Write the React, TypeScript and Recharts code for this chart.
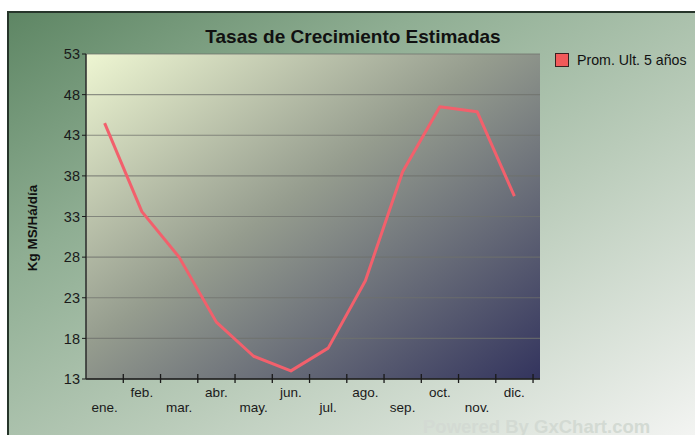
import { LineChart, Line, XAxis, YAxis, CartesianGrid } from 'recharts'

const months = ['ene.', 'feb.', 'mar.', 'abr.', 'may.', 'jun.', 'jul.', 'ago.', 'sep.', 'oct.', 'nov.', 'dic.']
const promUlt5 = [44.5, 33.6, 28.0, 20.0, 15.8, 14.0, 16.8, 25.1, 38.5, 46.5, 45.9, 35.5]
const yTicks = [13, 18, 23, 28, 33, 38, 43, 48, 53]

const data = months.map((m, i) => ({ month: m, prom: promUlt5[i] }))

const W = 695
const H = 435
const BAND = 448 / 12
const font = '"Liberation Sans", Arial, sans-serif'

function MonthTick(props: any) {
  const { x, y, payload, index } = props
  const right = x + BAND / 2
  const low = index % 2 === 0
  return (
    <g>
      <line x1={right} y1={y - 5} x2={right} y2={y + 4} stroke="#1a1a1a" strokeWidth={1.3} />
      <text
        x={x}
        y={y + (low ? 33 : 18)}
        textAnchor="middle"
        fill="#1a1a1a"
        fontSize={13.5}
        fontFamily={font}
      >
        {payload.value}
      </text>
    </g>
  )
}

export default function App() {
  return (
    <div style={{ position: 'absolute', left: 0, top: 0, width: W, height: H, background: '#fff', overflow: 'hidden' }}>
      <div
        style={{
          position: 'absolute',
          left: 7,
          top: 11,
          width: W - 7,
          height: H - 11,
          boxSizing: 'border-box',
          borderTop: '2px solid #26352a',
          borderLeft: '2px solid #26352a',
          background: 'linear-gradient(to bottom right, #5e8664 0%, #8fae93 30%, #b9cbb9 60%, #f3f4f2 100%)',
        }}
      />
      <div style={{ position: 'absolute', left: 0, top: 0 }}>
        <LineChart width={W} height={H} data={data} margin={{ top: 54, right: 155, bottom: 26, left: 26 }}>
          <defs>
            <linearGradient id="plotGrad" x1="0" y1="0" x2="1" y2="1">
              <stop offset="0%" stopColor="#eef6d2" />
              <stop offset="45%" stopColor="#959c8e" />
              <stop offset="100%" stopColor="#33345e" />
            </linearGradient>
          </defs>
          <CartesianGrid vertical={false} fill="url(#plotGrad)" fillOpacity={1} stroke="#6f716c" strokeOpacity={0.75} strokeWidth={1.2} />
          <XAxis
            dataKey="month"
            scale="band"
            height={30}
            interval={0}
            tick={<MonthTick />}
            tickLine={false}
            tickSize={0}
            tickMargin={0}
            padding={{ left: 0, right: 7 }}
            axisLine={{ stroke: '#1a1a1a', strokeWidth: 1.5 }}
          />
          <YAxis
            width={60}
            domain={[13, 53]}
            ticks={yTicks}
            interval={0}
            tickSize={4}
            tickMargin={2}
            tickLine={{ stroke: '#1a1a1a' }}
            axisLine={{ stroke: '#2a2a2a', strokeWidth: 1.5 }}
            tick={{ fill: '#1a1a1a', fontSize: 14.5, fontFamily: font }}
          />
          <Line
            type="linear"
            dataKey="prom"
            stroke="#f2606c"
            strokeWidth={3}
            dot={false}
            isAnimationActive={false}
            strokeLinejoin="round"
          />
          <text x={353} y={43} textAnchor="middle" fontSize={19} fontWeight="bold" fontFamily={font} fill="#111">
            Tasas de Crecimiento Estimadas
          </text>
          <text
            transform="translate(37,228) rotate(-90)"
            textAnchor="middle"
            fontSize={13.5}
            fontWeight="bold"
            fontFamily={font}
            fill="#111"
          >
            Kg MS/Há/día
          </text>
          <rect x={555.5} y={53.5} width={13} height={13} fill="#f25a5a" stroke="#3a2020" strokeWidth={1} />
          <text x={577} y={65} fontSize={14.2} fontFamily={font} fill="#111">
            Prom. Ult. 5 años
          </text>
          <text x={423} y={433} fontSize={18.5} fontWeight="bold" fontFamily={font} fill="#d3dad3">
            Powered By GxChart.com
          </text>
        </LineChart>
      </div>
    </div>
  )
}
